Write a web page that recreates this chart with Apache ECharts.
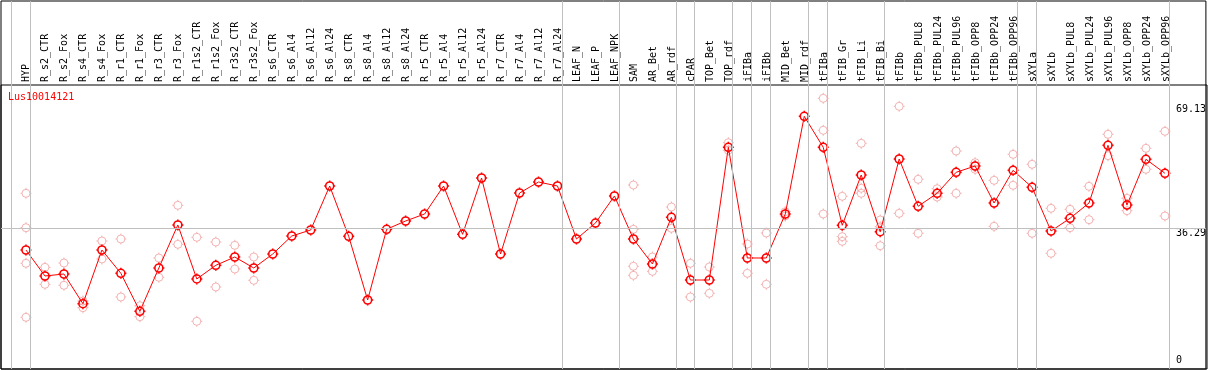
<!DOCTYPE html>
<html>
<head>
<meta charset="utf-8">
<script src="https://cdn.jsdelivr.net/npm/echarts@6/dist/echarts.min.js"></script>
<style>
html,body{margin:0;padding:0;background:#fff;}
#chart{width:1209px;height:370px;}
</style>
</head>
<body>
<div id="chart"></div>
<script>
const chartTitle = 'Lus10014121';
const categories = ['HYP','R_s2_CTR','R_s2_Fox','R_s4_CTR','R_s4_Fox','R_r1_CTR','R_r1_Fox','R_r3_CTR','R_r3_Fox','R_r1s2_CTR','R_r1s2_Fox','R_r3s2_CTR','R_r3s2_Fox','R_s6_CTR','R_s6_Al4','R_s6_Al12','R_s6_Al24','R_s8_CTR','R_s8_Al4','R_s8_Al12','R_s8_Al24','R_r5_CTR','R_r5_Al4','R_r5_Al12','R_r5_Al24','R_r7_CTR','R_r7_Al4','R_r7_Al12','R_r7_Al24','LEAF_N','LEAF_P','LEAF_NPK','SAM','AR_Bet','AR_rdf','cPAR','TOP_Bet','TOP_rdf','iFIBa','iFIBb','MID_Bet','MID_rdf','tFIBa','tFIB_Gr','tFIB_Li','tFIB_Bi','tFIBb','tFIBb_PUL8','tFIBb_PUL24','tFIBb_PUL96','tFIBb_OPP8','tFIBb_OPP24','tFIBb_OPP96','sXYLa','sXYLb','sXYLb_PUL8','sXYLb_PUL24','sXYLb_PUL96','sXYLb_OPP8','sXYLb_OPP24','sXYLb_OPP96'];

const means = [30.53,23.65,24.18,16.31,30.53,24.36,14.30,25.77,37.16,22.86,26.48,28.68,25.77,29.48,34.24,35.83,47.48,34.16,17.29,36.02,38.22,40.07,47.48,34.69,49.60,29.48,45.63,48.54,47.48,33.45,37.68,44.84,33.45,26.83,39.19,22.59,22.59,57.73,28.42,28.42,40.07,65.94,57.73,37.08,50.40,35.38,54.63,42.11,45.55,51.11,52.78,42.98,51.64,47.14,35.57,38.93,42.98,58.26,42.45,54.56,50.85];

const replicates = [
  [45.55,36.44,27.01,12.71],[25.95,21.45],[27.09,21.19],[17.03,15.25],[32.92,28.15],
  [33.45,18.09],[15.78,12.87],[28.42,23.31],[42.37,32.04],[33.90,11.65],
  [32.65,20.74],[31.78,25.50],[28.68,22.51],
  [],[],[],[],[],[],[],[],[],[],[],[],[],[],[],[],[],[],[],
  [47.75,36.02,26.22,23.83],[28.68,24.89],[41.92,36.28],[27.01,18.09],[26.03,19.07],
  [58.95,56.94],[32.12,24.36],[35.04,21.45],[40.68,39.54],[],
  [70.71,62.24,40.07],[44.76,34.06,32.84],[58.79,46.88,45.55],[38.48,36.70,31.67],
  [68.59,40.25],[49.26,34.96],[46.77,44.57],[56.75,45.55],[53.65,51.91],[48.99,36.81],
  [55.88,47.67],[53.23,34.96],[41.58,29.66],[41.31,36.44],[47.40,38.56],[61.18,55.51],
  [44.23,40.94],[57.47,51.91],[61.97,39.54]
];

// group boundaries: separator drawn after these category indices
const groupEnds = [-1,0,28,31,34,35,37,38,39,41,42,45,52,53,60];
const yTickLabels = [36.29, 69.13];
const yZeroLabel = [0];

// ---- layout / style ----
const FONT = 'DejaVu Sans Mono';
const SHIFT = 2; // category i sits at i + SHIFT on the hidden value axis
const STEP = 19, FIRST_X = 26, GL = 1, GR = 2, GW = 1209 - GL - GR;
const xMin = SHIFT - (FIRST_X - GL) / STEP;
const xMax = xMin + GW / STEP;
const Y_ZERO = 365.3, K = 3.776, GT = 1, GB = 369;
const yMax = (Y_ZERO - GT) / K, yMin = (Y_ZERO - GB) / K;
const SEP_OFF = 0.23;

const markerPath = 'path://M1.5,5.5 A4,4 0 1,1 9.5,5.5 A4,4 0 1,1 1.5,5.5 Z M5.5,0 L5.5,1.5 M5.5,9.5 L5.5,11 M0,5.5 L1.5,5.5 M9.5,5.5 L11,5.5';

const repData = [];
replicates.forEach((arr, i) => arr.forEach(v => repData.push([i + SHIFT, v])));
const meanData = means.map((v, i) => [i + SHIFT, v]);

const chart = echarts.init(document.getElementById('chart'), null, {renderer: 'canvas'});
chart.setOption({
  animation: false,
  backgroundColor: '#fff',
  title: {
    text: chartTitle, left: 8, top: 92, padding: 0,
    textStyle: {color: '#ff0000', fontFamily: FONT, fontSize: 10, fontWeight: 'normal'}
  },
  grid: [
    {left: GL, right: GR, top: GT, bottom: 370 - GB, show: true, borderColor: '#000', borderWidth: 1, backgroundColor: 'transparent'},
    {left: FIRST_X - STEP / 2, width: STEP * categories.length, top: 1, height: 84, show: false},
    {left: GL, right: GR, top: 85, bottom: 370 - GB, show: true, borderColor: '#000', borderWidth: 1, backgroundColor: 'transparent'}
  ],
  xAxis: [
    {type: 'value', gridIndex: 0, min: xMin, max: xMax, show: false},
    {type: 'category', gridIndex: 1, data: categories, position: 'bottom', boundaryGap: true,
      axisLine: {show: false}, axisTick: {show: false}, splitLine: {show: false},
      axisLabel: {show: true, interval: 0, rotate: 90, inside: true, margin: 3,
        fontFamily: FONT, fontSize: 10, color: '#000'}},
    {type: 'value', gridIndex: 2, show: false}
  ],
  yAxis: [
    {type: 'value', gridIndex: 0, position: 'right', min: yMin, max: yMax,
      axisLine: {show: false}, axisTick: {show: false}, splitLine: {show: false},
      axisLabel: {show: true, inside: true, customValues: yTickLabels, margin: 30, align: 'left',
        verticalAlign: 'top', fontFamily: FONT, fontSize: 10, color: '#000',
        formatter: v => String(v)}},
    {type: 'value', gridIndex: 0, position: 'right', min: yMin, max: yMax,
      axisLine: {show: false}, axisTick: {show: false}, splitLine: {show: false},
      axisLabel: {show: true, inside: true, customValues: yZeroLabel, margin: 30, align: 'left',
        verticalAlign: 'bottom', fontFamily: FONT, fontSize: 10, color: '#000',
        formatter: v => String(v)}},
    {type: 'value', gridIndex: 1, show: false},
    {type: 'value', gridIndex: 2, show: false}
  ],
  series: [
    {
      type: 'line', xAxisIndex: 0, yAxisIndex: 0, data: [], z: 1, silent: true, clip: false,
      markLine: {
        silent: true, symbol: ['none', 'none'], label: {show: false},
        lineStyle: {color: '#c0c0c0', width: 1, type: 'solid'},
        emphasis: {disabled: true},
        data: groupEnds.map(g => ({xAxis: g + SHIFT + SEP_OFF}))
          .concat([{yAxis: yTickLabels[0]}])
      }
    },
    {
      type: 'scatter', xAxisIndex: 0, yAxisIndex: 0, data: repData, z: 2, silent: true,
      symbol: markerPath, symbolSize: 11,
      itemStyle: {color: 'rgba(0,0,0,0)', borderColor: '#f0a0a0', borderWidth: 1}
    },
    {
      type: 'line', xAxisIndex: 0, yAxisIndex: 0, data: meanData, z: 3, silent: true,
      symbol: markerPath, symbolSize: 11, showAllSymbol: true,
      lineStyle: {color: '#ff0000', width: 1},
      itemStyle: {color: 'rgba(0,0,0,0)', borderColor: '#ff0000', borderWidth: 1.6}
    }
  ]
});
</script>
</body>
</html>
